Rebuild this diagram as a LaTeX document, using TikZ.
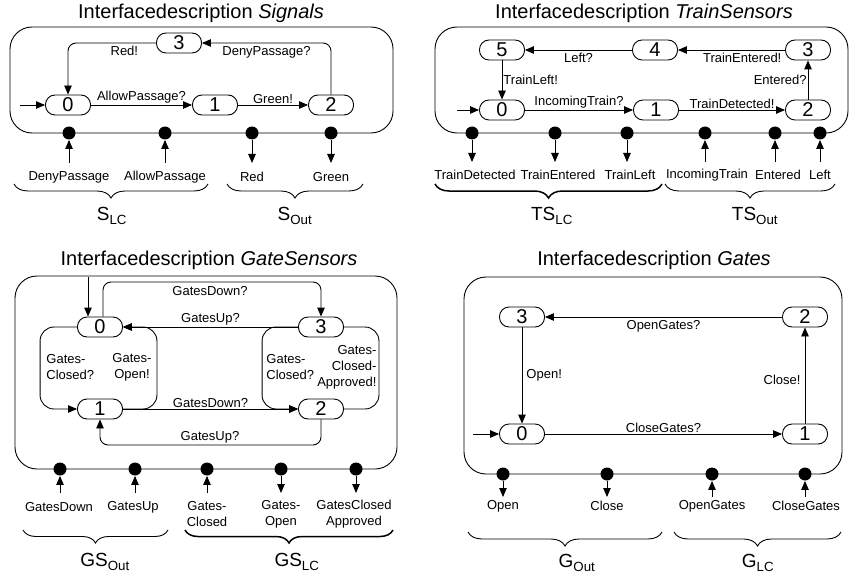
\documentclass[tikz,border=0pt]{standalone}
\usepackage{fontspec}
\setmainfont{Liberation Sans}
\usetikzlibrary{arrows.meta,decorations.pathreplacing}
\begin{document}
\begin{tikzpicture}[x=1pt,y=-1pt,line width=0.9pt,
  st/.style={draw,rounded corners=9.5pt,minimum width=45pt,minimum height=20pt,inner sep=0pt,fill=white,font=\fontsize{20}{20}\selectfont},
  pin/.style={circle,fill=black,minimum size=13pt,inner sep=0pt},
  lbl/.style={font=\fontsize{13}{16}\selectfont,inner sep=1pt},
  ttl/.style={font=\fontsize{20}{24}\selectfont},
  grp/.style={font=\fontsize{19}{22}\selectfont},
  arr/.style={-{Triangle[length=9pt,width=7.5pt]}},
  frame/.style={rounded corners=22pt},
  lnk/.style={arr,rounded corners=8pt},
  loop/.style={rounded corners=14pt},
  br/.style={decorate,decoration={brace,mirror,amplitude=14pt}},
  brb/.style={br,line width=1.5pt},
]
\useasboundingbox (0,0) rectangle (850,580);

%% ---------------- Panel 1: Signals
\draw[frame] (10,27) rectangle (393,133);
\node[ttl] (ta) at (201,13) {Interfacedescription \textit{Signals}};
\node[st] (a0) at (68,105) {0};
\node[st] (a1) at (215,105) {1};
\node[st] (a2) at (331,105) {2};
\node[st] (a3) at (179,43) {3};
\coordinate (ai) at (20,105);
\draw[arr] (ai) -- (a0);
\draw[arr] (a0) -- node[lbl,above]{AllowPassage?} (a1);
\draw[arr] (a1) -- node[lbl,above]{Green!} (a2);
\draw[lnk] (a2.north) |- node[lbl,below=2pt,pos=0.75]{DenyPassage?} (a3.east);
\draw[lnk] (a3.west) -| node[lbl,below=2pt,pos=0.18]{Red!} (a0.north);
\foreach \n/\x in {1/69,2/165,3/252,4/331}{
  \node[pin] (ap\n) at (\x,133) {};
  \coordinate (aq\n) at (\x,163);
}
\draw[arr] (aq1) -- (ap1);
\draw[arr] (aq2) -- (ap2);
\draw[arr] (ap3) -- (aq3);
\draw[arr] (ap4) -- (aq4);
\node[lbl] (al1) at (69,177) {DenyPassage};
\node[lbl] (al2) at (165,177) {AllowPassage};
\node[lbl] (al3) at (252,177) {Red};
\node[lbl] (al4) at (331,177) {Green};
\draw[br] (14,184) -- (208,184);
\draw[br] (227,184) -- (363,184);
\node[grp] (ag1) at (112,216) {S\textsubscript{LC}};
\node[grp] (ag2) at (295,216) {S\textsubscript{Out}};

%% ---------------- Panel 2: TrainSensors
\draw[frame] (435,27) rectangle (848,133);
\node[ttl] (tb) at (644,13) {Interfacedescription \textit{TrainSensors}};
\node[st] (b0) at (502,110) {0};
\node[st] (b1) at (656,110) {1};
\node[st] (b2) at (808,110) {2};
\node[st] (b3) at (808,50) {3};
\node[st] (b4) at (655,50) {4};
\node[st] (b5) at (502,50) {5};
\coordinate (bi) at (457,110);
\draw[arr] (bi) -- (b0);
\draw[arr] (b0) -- node[lbl,above]{IncomingTrain?} (b1);
\draw[arr] (b1) -- node[lbl,above]{TrainDetected!} (b2);
\draw[arr] (b2) -- node[lbl,left]{Entered?} (b3);
\draw[arr] (b3) -- node[lbl,below=2pt,pos=0.4]{TrainEntered!} (b4);
\draw[arr] (b4) -- node[lbl,below=2pt]{Left?} (b5);
\draw[arr] (b5) -- node[lbl,right]{TrainLeft!} (b0);
\foreach \n/\x in {1/472,2/555,3/627,4/705,5/775,6/820}{
  \node[pin] (bp\n) at (\x,133) {};
  \coordinate (bq\n) at (\x,162);
}
\draw[arr] (bp1) -- (bq1);
\draw[arr] (bp2) -- (bq2);
\draw[arr] (bp3) -- (bq3);
\draw[arr] (bq4) -- (bp4);
\draw[arr] (bq5) -- (bp5);
\draw[arr] (bq6) -- (bp6);
\node[lbl] (bl1) at (475,175) {TrainDetected};
\node[lbl] (bl2) at (558,175) {TrainEntered};
\node[lbl] (bl3) at (630,175) {TrainLeft};
\node[lbl] (bl4) at (707,175) {IncomingTrain};
\node[lbl] (bl5) at (778,175) {Entered};
\node[lbl] (bl6) at (820,175) {Left};
\draw[brb] (435,184) -- (662,184);
\draw[br] (665,184) -- (835,184);
\node[grp] (bg1) at (552,216) {TS\textsubscript{LC}};
\node[grp] (bg2) at (755,216) {TS\textsubscript{Out}};

%% ---------------- Panel 3: GateSensors
\draw[frame] (15,276) rectangle (397,469);
\node[ttl] (tc) at (209,260) {Interfacedescription \textit{GateSensors}};
\node[st] (g0) at (100,327) {0};
\node[st] (g1) at (100,409) {1};
\node[st] (g2) at (321,409) {2};
\node[st] (g3) at (321,327) {3};
\coordinate (gi) at (88,277);
\coordinate (gtop) at (210,282);
\coordinate (gbot) at (210,445);
\draw[arr] (gi) -- ([xshift=-12pt]g0.north);
\draw[lnk] ([xshift=3pt]g0.north) |- (gtop) node[lbl,below=3pt]{GatesDown?} -| (g3.north);
\draw[arr] (g3) -- node[lbl,above]{GatesUp?} (g0);
\draw[arr] (g1) -- node[lbl,above]{GatesDown?} (g2);
\draw[lnk] (g2.south) |- (gbot) node[lbl,above]{GatesUp?} -| (g1.south);
\draw[arr,loop] (g0.west) -- ++(-37,0) |- (g1.west);
\draw[arr,loop] (g1.east) -- ++(34,0) |- (g0.east);
\draw[arr,loop] (g3.west) -- ++(-36,0) |- (g2.west);
\draw[loop] (g2.east) -- ++(35,0) |- (g3.east);
\node[lbl,anchor=west,align=left] (gc1) at (45,367) {Gates-\\Closed?};
\node[lbl,align=center] (gc2) at (132,367) {Gates-\\Open!};
\node[lbl,anchor=west,align=left] (gc3) at (265,367) {Gates-\\Closed?};
\node[lbl,anchor=east,align=right] (gc4) at (378,367) {Gates-\\Closed-\\Approved!};
\foreach \n/\x in {1/60,2/135,3/207,4/281,5/356}{
  \node[pin] (gp\n) at (\x,469) {};
  \coordinate (gq\n) at (\x,493);
}
\draw[arr] (gq1) -- (gp1);
\draw[arr] (gq2) -- (gp2);
\draw[arr] (gq3) -- (gp3);
\draw[arr] (gp4) -- (gq4);
\draw[arr] (gp5) -- (gq5);
\node[lbl] (gl1) at (59,507) {GatesDown};
\node[lbl] (gl2) at (133,507) {GatesUp};
\node[lbl,align=center] (gl3) at (207,514) {Gates-\\Closed};
\node[lbl,align=center] (gl4) at (281,514) {Gates-\\Open};
\node[lbl,align=center] (gl5) at (354,514) {GatesClosed\\Approved};
\draw[br,decoration={amplitude=13pt}] (23,530) -- (168,530);
\draw[brb,decoration={amplitude=13pt}] (185,530) -- (393,530);
\node[grp] (gg1) at (105,562) {GS\textsubscript{Out}};
\node[grp] (gg2) at (297,562) {GS\textsubscript{LC}};

%% ---------------- Panel 4: Gates
\draw[frame] (464,277) rectangle (842,474);
\node[ttl] (td) at (654,260) {Interfacedescription \textit{Gates}};
\node[st] (h0) at (522,434) {0};
\node[st] (h1) at (805,434) {1};
\node[st] (h2) at (805,317) {2};
\node[st] (h3) at (522,317) {3};
\coordinate (hi) at (473,434);
\draw[arr] (hi) -- (h0);
\draw[arr] (h0) -- node[lbl,above]{CloseGates?} (h1);
\draw[arr] (h1) -- node[lbl,left=3pt,pos=0.45]{Close!} (h2);
\draw[arr] (h2) -- node[lbl,below=2pt]{OpenGates?} (h3);
\draw[arr] (h3) -- node[lbl,right=3pt]{Open!} (h0);
\foreach \n/\x in {1/503,2/607,3/712,4/805}{
  \node[pin] (hp\n) at (\x,474) {};
  \coordinate (hq\n) at (\x,497);
}
\draw[arr] (hp1) -- (hq1);
\draw[arr] (hp2) -- (hq2);
\draw[arr] (hq3) -- (hp3);
\draw[arr] (hq4) -- (hp4);
\node[lbl] (hl1) at (503,506) {Open};
\node[lbl] (hl2) at (607,506) {Close};
\node[lbl] (hl3) at (712,506) {OpenGates};
\node[lbl] (hl4) at (806,506) {CloseGates};
\draw[br] (468,532) -- (662,532);
\draw[br] (674,532) -- (841,532);
\node[grp] (hg1) at (577,563) {G\textsubscript{Out}};
\node[grp] (hg2) at (758,563) {G\textsubscript{LC}};
\end{tikzpicture}
\end{document}
